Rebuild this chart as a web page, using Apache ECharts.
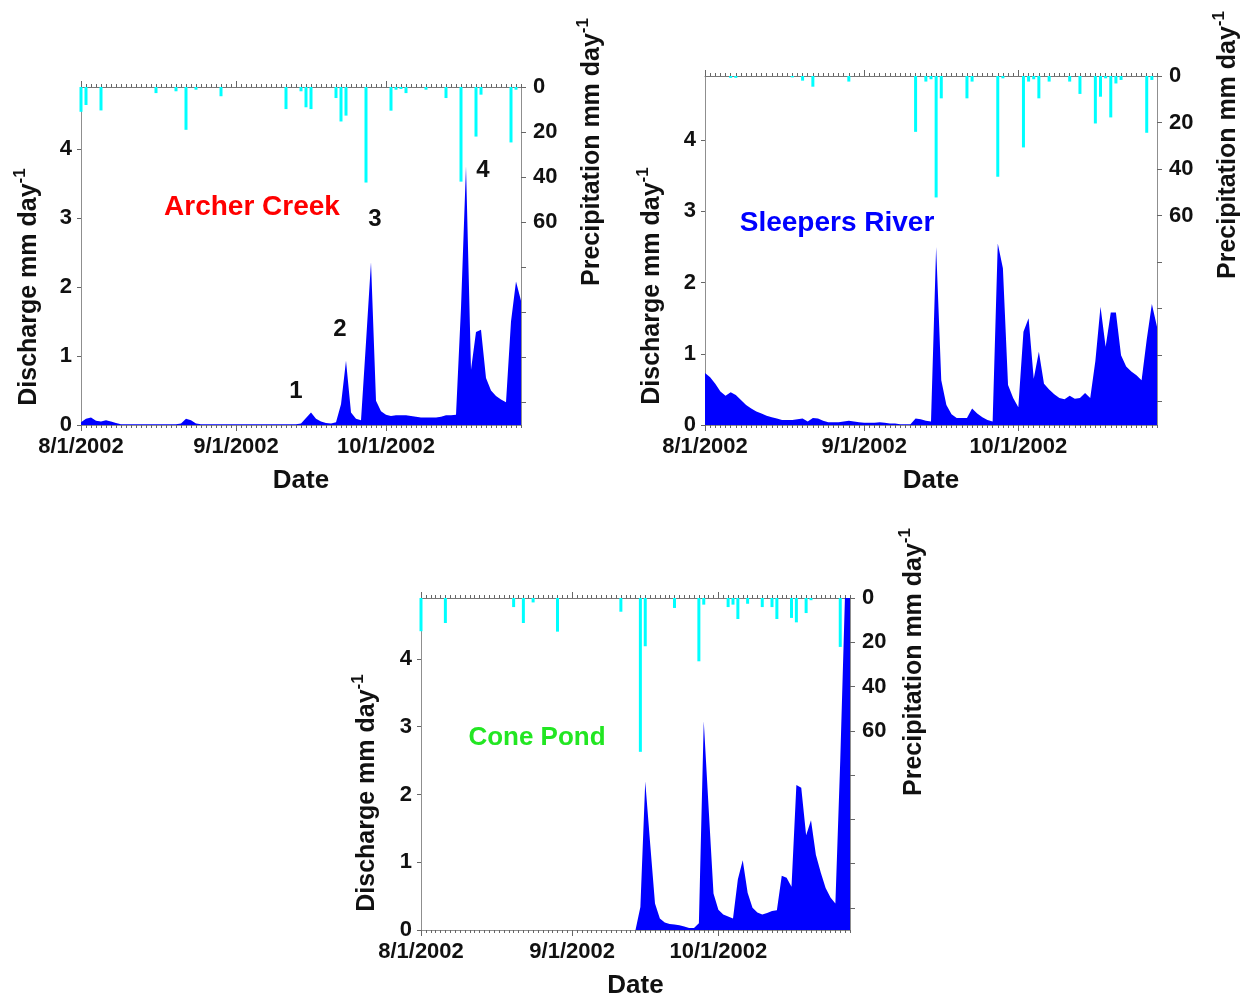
<!DOCTYPE html>
<html>
<head>
<meta charset="utf-8">
<script src="https://cdn.jsdelivr.net/npm/echarts@6/dist/echarts.min.js"></script>
<style>
  html, body { margin: 0; padding: 0; background: #ffffff; }
  #chart { width: 1244px; height: 999px; }
</style>
</head>
<body>
<div id="chart"></div>
<script>
// Days are counted from 8/1/2002 (day 0) to 10/28/2002 (day 88).
const DATE_LABELS = ['8/1/2002', '9/1/2002', '10/1/2002'];
const LABEL_DAYS = [0, 31, 61];
const Q_TICKS = [0, 1, 2, 3, 4];
const P_TICKS = [0, 20, 40, 60, 80, 100, 120, 140];
const P_LABELS = [0, 20, 40, 60];

// Daily discharge, mm/day
const archerQ = [
  0.04, 0.09, 0.11, 0.06, 0.05, 0.07, 0.05, 0.03, 0.01, 0.01,
  0.01, 0.01, 0.01, 0.01, 0.01, 0.01, 0.01, 0.01, 0.01, 0.01,
  0.02, 0.09, 0.07, 0.02, 0.01, 0.01, 0.01, 0.01, 0.01, 0.01,
  0.01, 0.01, 0.01, 0.01, 0.01, 0.01, 0.01, 0.01, 0.01, 0.01,
  0.01, 0.01, 0.01, 0.01, 0.02, 0.10, 0.18, 0.09, 0.05, 0.03,
  0.02, 0.04, 0.30, 0.93, 0.18, 0.09, 0.07, 1.20, 2.36, 0.35,
  0.20, 0.15, 0.13, 0.14, 0.14, 0.14, 0.13, 0.12, 0.11, 0.11,
  0.11, 0.11, 0.12, 0.14, 0.14, 0.15, 1.70, 3.75, 0.80, 1.35,
  1.38, 0.68, 0.50, 0.42, 0.37, 0.33, 1.50, 2.08, 1.80
];
const sleepersQ = [
  0.73, 0.67, 0.58, 0.47, 0.41, 0.46, 0.42, 0.35, 0.28, 0.23,
  0.19, 0.16, 0.13, 0.11, 0.09, 0.07, 0.07, 0.07, 0.08, 0.09,
  0.05, 0.10, 0.09, 0.06, 0.04, 0.04, 0.04, 0.05, 0.06, 0.05,
  0.04, 0.03, 0.03, 0.03, 0.04, 0.03, 0.02, 0.02, 0.01, 0.01,
  0.01, 0.09, 0.08, 0.06, 0.05, 2.50, 0.63, 0.28, 0.15, 0.10,
  0.10, 0.10, 0.23, 0.16, 0.11, 0.07, 0.05, 2.55, 2.20, 0.56,
  0.38, 0.25, 1.31, 1.50, 0.65, 1.03, 0.58, 0.50, 0.43, 0.38,
  0.36, 0.41, 0.37, 0.38, 0.45, 0.38, 0.90, 1.66, 1.10, 1.58,
  1.58, 0.98, 0.82, 0.75, 0.70, 0.63, 1.20, 1.70, 1.38
];
const coneQ = [
  0, 0, 0, 0, 0, 0, 0, 0, 0, 0,
  0, 0, 0, 0, 0, 0, 0, 0, 0, 0,
  0, 0, 0, 0, 0, 0, 0, 0, 0, 0,
  0, 0, 0, 0, 0, 0, 0, 0, 0, 0,
  0, 0, 0, 0, 0, 0.34, 2.19, 1.28, 0.39, 0.17,
  0.11, 0.09, 0.08, 0.07, 0.05, 0.03, 0.03, 0.10, 3.08, 1.80,
  0.54, 0.30, 0.23, 0.20, 0.17, 0.75, 1.03, 0.55, 0.33, 0.26,
  0.23, 0.25, 0.28, 0.29, 0.80, 0.77, 0.64, 2.14, 2.10, 1.40,
  1.62, 1.11, 0.85, 0.62, 0.48, 0.39, 2.50, 5.00, 5.00
];

// Daily precipitation, mm/day (rain days only)
const archerRainDay = [0, 1, 4, 15, 19, 21, 23, 28, 41, 44, 45, 46, 51, 52, 53, 57, 62, 63, 64, 65, 69, 73, 76, 79, 80, 86, 87];
const archerRain    = [11, 8, 10.4, 2.7, 1.9, 19, 1.2, 4.1, 9.8, 1.9, 9, 9.8, 4.9, 15.3, 12.7, 42.4, 10.5, 1.2, 0.9, 2.7, 1.2, 4.9, 42, 22, 3.4, 24.6, 1.2];
const sleepersRainDay = [5, 6, 17, 19, 21, 28, 41, 43, 44, 45, 46, 51, 52, 57, 58, 62, 63, 64, 65, 67, 71, 73, 76, 77, 78, 79, 80, 81, 86, 87];
const sleepersRain    = [0.8, 0.8, 0.6, 2.0, 4.6, 2.4, 24, 2.4, 1.4, 52.2, 9.6, 9.6, 2.4, 43.3, 1.0, 30.7, 2.4, 1.4, 9.6, 2.4, 2.4, 7.7, 20.4, 8.9, 1.0, 17.8, 3.2, 1.7, 24.4, 1.7];
const coneRainDay = [0, 5, 19, 21, 23, 28, 41, 45, 46, 52, 57, 58, 63, 64, 65, 67, 70, 72, 73, 76, 77, 79, 80, 86];
const coneRain    = [15, 11.3, 4.1, 11.3, 2.0, 15.2, 6.2, 69.5, 21.8, 4.5, 28.6, 3.0, 4.1, 3.0, 9.5, 2.6, 4.1, 4.1, 9.5, 9.0, 11, 6.8, 1.0, 22.1];

const FONT = '"Liberation Sans", Arial, sans-serif';
const AXIS_GRAY = '#8f8f8f';
const TICK_GRAY = '#666666';

const panels = [
  { grid: { left: 81, top: 87, width: 440, height: 338 }, q: archerQ, rd: archerRainDay, r: archerRain },
  { grid: { left: 705, top: 76, width: 452, height: 349 }, q: sleepersQ, rd: sleepersRainDay, r: sleepersRain },
  { grid: { left: 421, top: 598, width: 429, height: 332 }, q: coneQ, rd: coneRainDay, r: coneRain }
];

const grids = [], xAxes = [], yAxes = [], series = [];

panels.forEach((p, i) => {
  grids.push(Object.assign({ containLabel: false, outerBoundsMode: 'none' }, p.grid));
  const dayAxis = {
    type: 'value', gridIndex: i, min: 0, max: 88, interval: 1,
    splitLine: { show: false }
  };
  // bottom: daily ticks with month labels
  xAxes.push(Object.assign({}, dayAxis, {
    position: 'bottom',
    axisLine: { show: true, onZero: false, lineStyle: { color: AXIS_GRAY, width: 1 } },
    axisTick: { show: true, length: 3, lineStyle: { color: TICK_GRAY, width: 1 } },
    axisLabel: {
      show: true, customValues: LABEL_DAYS, margin: 11,
      formatter: v => DATE_LABELS[LABEL_DAYS.indexOf(v)] || '',
      color: '#111', fontFamily: FONT, fontWeight: 'bold', fontSize: 22
    },
    name: 'Date', nameLocation: 'middle', nameGap: 43, nameMoveOverlap: false,
    nameTextStyle: { color: '#111', fontFamily: FONT, fontWeight: 'bold', fontSize: 26 }
  }));
  // bottom: longer ticks at month starts
  xAxes.push(Object.assign({}, dayAxis, {
    position: 'bottom',
    axisLine: { show: false, onZero: false },
    axisTick: { show: true, customValues: LABEL_DAYS, length: 6, lineStyle: { color: TICK_GRAY, width: 1 } },
    axisLabel: { show: false }
  }));
  // top frame: daily ticks
  xAxes.push(Object.assign({}, dayAxis, {
    position: 'top',
    axisLine: { show: true, onZero: false, lineStyle: { color: '#777', width: 1 } },
    axisTick: { show: true, length: 3, lineStyle: { color: TICK_GRAY, width: 1 } },
    axisLabel: { show: false }
  }));
  // top frame: longer ticks at month starts
  xAxes.push(Object.assign({}, dayAxis, {
    position: 'top',
    axisLine: { show: false, onZero: false },
    axisTick: { show: true, customValues: LABEL_DAYS, length: 6, lineStyle: { color: TICK_GRAY, width: 1 } },
    axisLabel: { show: false }
  }));

  // left: discharge
  yAxes.push({
    type: 'value', gridIndex: i, position: 'left', min: 0, max: 4.9,
    splitLine: { show: false },
    axisLine: { show: true, onZero: false, lineStyle: { color: AXIS_GRAY, width: 1 } },
    axisTick: { show: true, customValues: Q_TICKS, length: 4, lineStyle: { color: TICK_GRAY } },
    axisLabel: {
      show: true, customValues: Q_TICKS, margin: 9,
      color: '#111', fontFamily: FONT, fontWeight: 'bold', fontSize: 22
    }
  });
  // right: precipitation, inverted
  yAxes.push({
    type: 'value', gridIndex: i, position: 'right', min: 0, max: 150, inverse: true,
    splitLine: { show: false },
    axisLine: { show: true, onZero: false, lineStyle: { color: AXIS_GRAY, width: 1 } },
    axisTick: { show: true, customValues: P_TICKS, length: 5, lineStyle: { color: TICK_GRAY } },
    axisLabel: {
      show: true, customValues: P_LABELS, margin: 12,
      color: '#111', fontFamily: FONT, fontWeight: 'bold', fontSize: 22
    }
  });

  series.push({
    type: 'line', xAxisIndex: 4 * i, yAxisIndex: 2 * i,
    data: p.q.map((v, d) => [d, v]),
    symbol: 'none', showSymbol: false, silent: true,
    lineStyle: { width: 0, color: '#0000ff' },
    areaStyle: { color: '#0000ff', opacity: 1 },
    z: 2, clip: true
  });
  series.push({
    type: 'bar', xAxisIndex: 4 * i, yAxisIndex: 2 * i + 1,
    data: p.rd.map((d, k) => [d, p.r[k]]),
    barWidth: 3, silent: true,
    itemStyle: { color: '#00ffff' },
    z: 3, clip: true
  });
});

function vText(x, y, label) {
  return {
    type: 'text', x: x, y: y, rotation: Math.PI / 2, silent: true,
    style: {
      text: '{a|' + label + ' mm day}{b|-1}',
      align: 'center', verticalAlign: 'middle',
      rich: {
        a: { fontFamily: FONT, fontWeight: 'bold', fontSize: 25, fill: '#111', lineHeight: 30, verticalAlign: 'bottom' },
        b: { fontFamily: FONT, fontWeight: 'bold', fontSize: 17, fill: '#111', lineHeight: 30, verticalAlign: 'top' }
      }
    }
  };
}
function label(x, y, text, size, color) {
  return {
    type: 'text', x: x, y: y, silent: true,
    style: {
      text: text, fontFamily: FONT, fontWeight: 'bold', fontSize: size, fill: color,
      align: 'center', verticalAlign: 'middle'
    }
  };
}

const graphics = [
  vText(27, 287, 'Discharge'),
  vText(590, 152, 'Precipitation'),
  vText(650, 286, 'Discharge'),
  vText(1226, 145, 'Precipitation'),
  vText(365, 793, 'Discharge'),
  vText(912, 662, 'Precipitation'),
  label(252, 207, 'Archer Creek', 28, '#ff0000'),
  label(837, 223, 'Sleepers River', 28, '#0000ff'),
  label(537, 738, 'Cone Pond', 26, '#22e622'),
  label(296, 391, '1', 24, '#111'),
  label(340, 329, '2', 24, '#111'),
  label(375, 219, '3', 24, '#111'),
  label(483, 170, '4', 24, '#111')
];

const chart = echarts.init(document.getElementById('chart'), null, { renderer: 'canvas' });
chart.setOption({
  animation: false,
  backgroundColor: '#ffffff',
  grid: grids,
  xAxis: xAxes,
  yAxis: yAxes,
  series: series,
  graphic: graphics
});
</script>
</body>
</html>
